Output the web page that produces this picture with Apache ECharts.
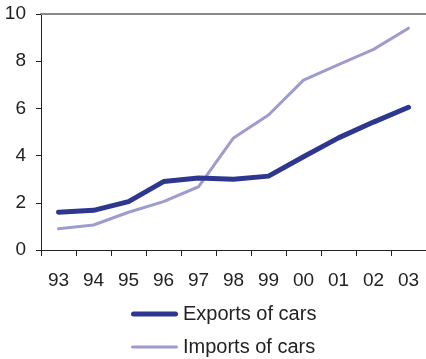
<!DOCTYPE html>
<html>
<head>
<meta charset="utf-8">
<script src="https://cdn.jsdelivr.net/npm/echarts@6/dist/echarts.min.js"></script>
<style>
  html, body { margin: 0; padding: 0; background: #fff; }
  #chart { width: 426px; height: 359px; }
</style>
</head>
<body>
<div id="chart"></div>
<script>
// Years on the category axis
const years = ['93', '94', '95', '96', '97', '98', '99', '00', '01', '02', '03'];
// Car trade series
const exportsOfCars = [1.6, 1.68, 2.05, 2.9, 3.05, 3.0, 3.13, 3.95, 4.75, 5.42, 6.05];
const importsOfCars = [0.9, 1.06, 1.6, 2.05, 2.68, 4.75, 5.72, 7.2, 7.85, 8.5, 9.4];
// Value axis ticks
const yTicks = [0, 2, 4, 6, 8, 10];

const chart = echarts.init(document.getElementById('chart'));
const font = 'Liberation Sans, Arial, sans-serif';

chart.setOption({
  animation: false,
  backgroundColor: '#ffffff',
  grid: { left: 41, right: 0, top: 14, bottom: 109, containLabel: false },
  legend: {
    orient: 'vertical',
    left: 131,
    top: 304,
    padding: 0,
    itemWidth: 47,
    itemHeight: 18,
    itemGap: 13,
    symbolKeepAspect: true,
    textStyle: { fontFamily: font, fontSize: 20, color: '#222', lineHeight: 18 },
    data: [
      { name: 'Exports of cars', icon: 'path://M2.5,0h42a2.5,2.5 0 0 1 0,5h-42a2.5,2.5 0 0 1 0,-5z' },
      { name: 'Imports of cars', icon: 'path://M1.5,0h44a1.5,1.5 0 0 1 0,3h-44a1.5,1.5 0 0 1 0,-3z' }
    ]
  },
  xAxis: [
    {
      type: 'category',
      data: years,
      boundaryGap: true,
      axisLine: { lineStyle: { color: '#222', width: 1 } },
      axisTick: { show: true, length: 6, lineStyle: { color: '#222' } },
      axisLabel: { fontFamily: font, fontSize: 19, color: '#222', margin: 21 },
      splitLine: { show: false }
    },
    {
      type: 'category',
      position: 'top',
      data: years,
      axisLine: { show: true, lineStyle: { color: '#888', width: 2 } },
      axisTick: { show: false },
      axisLabel: { show: false },
      splitLine: { show: false }
    }
  ],
  yAxis: {
    type: 'value',
    min: yTicks[0],
    max: yTicks[yTicks.length - 1],
    interval: 2,
    axisLine: { show: true, lineStyle: { color: '#222', width: 1 } },
    axisTick: { show: true, length: 5, lineStyle: { color: '#222' } },
    axisLabel: { fontFamily: font, fontSize: 19, color: '#222', margin: 15 },
    splitLine: { show: false }
  },
  series: [
    {
      name: 'Exports of cars',
      type: 'line',
      data: exportsOfCars,
      symbol: 'none',
      color: '#2e3790',
      lineStyle: { width: 5, color: '#2e3790', cap: 'round', join: 'round' },
      z: 3
    },
    {
      name: 'Imports of cars',
      type: 'line',
      data: importsOfCars,
      symbol: 'none',
      color: '#9e9ccf',
      lineStyle: { width: 3, color: '#9e9ccf', cap: 'round', join: 'round' },
      z: 2
    }
  ]
});
</script>
</body>
</html>
